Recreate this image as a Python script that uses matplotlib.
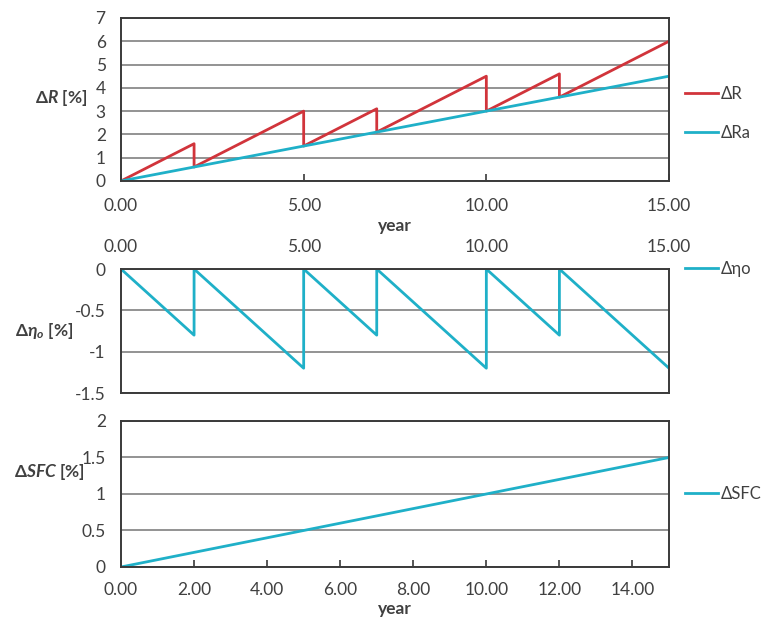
import numpy as np
import matplotlib
matplotlib.use("Agg")
import matplotlib.pyplot as plt

plt.rcParams['font.family'] = ['Lato', 'DejaVu Sans']
plt.rcParams['font.size'] = 12.5
plt.rcParams['mathtext.fontset'] = 'custom'
plt.rcParams['mathtext.rm'] = 'Lato:bold'
plt.rcParams['mathtext.it'] = 'Lato:bold:italic'
plt.rcParams['mathtext.bf'] = 'Lato:bold'
plt.rcParams['mathtext.fallback'] = 'stixsans'

# -----------------------------
# data
# -----------------------------
# ΔR : sawtooth, drops back onto ΔRa after every maintenance
r_year = [0, 2, 2, 5, 5, 7, 7, 10, 10, 12, 12, 15]
r_val = [0, 1.6, 0.6, 3.0, 1.5, 3.1, 2.1, 4.5, 3.0, 4.6, 3.6, 6.0]
ra_year = [0, 2, 5, 7, 10, 12, 15]
ra_val = [0, 0.6, 1.5, 2.1, 3.0, 3.6, 4.5]

# Δηo : efficiency loss, recovered to 0 after each event
eta_year = [0, 2, 2, 5, 5, 7, 7, 10, 10, 12, 12, 15]
eta_val = [0, -0.8, 0, -1.2, 0, -0.8, 0, -1.2, 0, -0.8, 0, -1.2]

# ΔSFC
sfc_year = [0, 5, 10, 15]
sfc_val = [0, 0.5, 1.0, 1.5]

red = "#d1343b"
cyan = "#1fb0c8"
txt = "#404040"
grid_c = "#8a8a8a"
spine_c = "#3a3a3a"

fig = plt.figure(figsize=(7.63, 6.2), dpi=100)
ax1 = fig.add_axes([0.1586, 0.7081, 0.7182, 0.2629])
ax2 = fig.add_axes([0.1586, 0.3661, 0.7182, 0.2000])
ax3 = fig.add_axes([0.1586, 0.0855, 0.7182, 0.2355])

leg_kw = dict(loc='center left', frameon=False, borderpad=0, borderaxespad=0,
              handlelength=2.0, handletextpad=0.15, labelcolor=txt, fontsize=12)


def style(ax):
    for s in ax.spines.values():
        s.set_color(spine_c)
        s.set_linewidth(1.4)
    ax.yaxis.grid(True, color=grid_c, linewidth=1.3)
    ax.set_axisbelow(True)
    ax.tick_params(colors=txt, labelsize=12.5)
    ax.tick_params(axis='y', length=0, pad=11)


# ---- top: ΔR and ΔRa
ax1.plot(r_year, r_val, color=red, linewidth=2, label="ΔR")
ax1.plot(ra_year, ra_val, color=cyan, linewidth=2, label="ΔRa")
ax1.set_xlim(0, 15)
ax1.set_ylim(0, 7)
ax1.set_yticks(range(0, 8))
ax1.set_xticks([0, 5, 10, 15])
ax1.set_xticklabels(["0.00", "5.00", "10.00", "15.00"])
style(ax1)
ax1.tick_params(axis='x', direction='in', length=5, width=1.2, color=spine_c, pad=12)
ax1.set_xlabel("year", fontweight='bold', color=txt, labelpad=3)
ax1.set_ylabel(r"$\mathit{\Delta R}$ [%]", rotation=0, fontweight='bold', color=txt)
ax1.yaxis.set_label_coords(-0.11, 0.45)
ax1.legend(bbox_to_anchor=(1.029, 0.414), labelspacing=1.4, **leg_kw)

# ---- middle: Δηo
ax2.plot(eta_year, eta_val, color=cyan, linewidth=2, label="Δηo")
ax2.set_xlim(0, 15)
ax2.set_ylim(-1.5, 0)
ax2.set_yticks([0, -0.5, -1, -1.5])
ax2.set_yticklabels(["0", "-0.5", "-1", "-1.5"])
ax2.xaxis.tick_top()
ax2.set_xticks([0, 5, 10, 15])
ax2.set_xticklabels(["0.00", "5.00", "10.00", "15.00"])
style(ax2)
ax2.tick_params(axis='x', length=0, pad=10)
ax2.set_ylabel(r"$\mathit{\Delta\eta_o}$ [%]", rotation=0, fontweight='bold', color=txt)
ax2.yaxis.set_label_coords(-0.14, 0.42)
ax2.legend(bbox_to_anchor=(1.029, 1.0), **leg_kw)

# ---- bottom: ΔSFC
ax3.plot(sfc_year, sfc_val, color=cyan, linewidth=2, label="ΔSFC")
ax3.set_xlim(0, 15)
ax3.set_ylim(0, 2)
ax3.set_yticks([0, 0.5, 1, 1.5, 2])
ax3.set_yticklabels(["0", "0.5", "1", "1.5", "2"])
ax3.set_xticks(np.arange(0, 15, 2))
ax3.set_xticklabels([f"{v:.2f}" for v in np.arange(0, 15, 2)])
style(ax3)
ax3.tick_params(axis='x', direction='in', length=5, width=1.2, color=spine_c, pad=11)
ax3.set_xlabel("year", fontweight='bold', color=txt, labelpad=2)
ax3.set_ylabel(r"$\mathit{\Delta SFC}$ [%]", rotation=0, fontweight='bold', color=txt)
ax3.yaxis.set_label_coords(-0.13, 0.58)
ax3.legend(bbox_to_anchor=(1.029, 0.5), **leg_kw)

fig.savefig("out.png", dpi=100)
